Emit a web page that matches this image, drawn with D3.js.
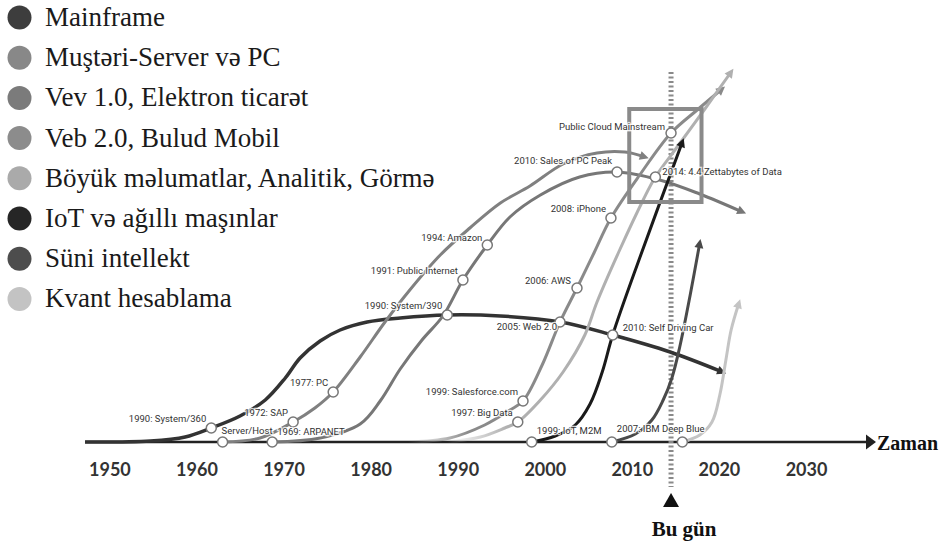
<!DOCTYPE html>
<html>
<head>
<meta charset="utf-8">
<script src="https://cdn.jsdelivr.net/npm/d3@7"></script>
<style>
  body { margin: 0; background: #fff; }
  .legendText { font-family: "Liberation Serif", "Times New Roman", serif; font-size: 27px; fill: #1a1a1a; }
  .tickText { font-family: Lato, "Open Sans", sans-serif; font-weight: 700; font-size: 18px; fill: #333; }
  .note { font-family: Roboto, "DejaVu Sans Condensed", sans-serif; font-size: 9.5px; fill: #333;
          stroke: #fff; stroke-width: 2.5px; stroke-opacity: 0.8; paint-order: stroke; }
  .bold { font-family: "Liberation Serif", "Times New Roman", serif; font-weight: 700; font-size: 21px; fill: #111; }
</style>
</head>
<body>
<div id="chart"></div>
<script>
// computing eras: [year, adoption level 0-100]
var mainframe = [[1947.2,0],[1954.7,0.25],[1958.7,1.25],[1961.7,3.5],[1965.0,6.5],[1967.9,10.5],[1970.2,16],[1971.9,21],
  [1974.2,25.25],[1976.5,28],[1979.6,30],[1983.4,31],[1988.8,31.75],[1994.9,31.5],[2001.8,30],[2007.8,26.75],[2014.4,22.5],[2020.4,17.5]];
var clientServer = [[1963.0,0],[1967.3,1],[1971.1,5],[1973.6,8.5],[1975.7,12.5],[1978.8,21.25],[1981.65,30],[1984.5,38],
  [1988.0,46.75],[1991.4,53.5],[1994.9,59.75],[1998.3,64],[2002.1,69.5],[2006.0,72.25],[2009.2,72.5],[2011.5,71.25]];
var webOne = [[1968.7,0],[1974.2,1],[1978.8,4.5],[1981.1,10.25],[1983.4,18.25],[1985.9,25.5],[1988.3,31.5],[1990.6,40.5],
  [1993.4,49.25],[1996.0,56.25],[1999.5,61.75],[2004.0,66.25],[2008.3,67.5],[2013.2,65.5],[2017.8,62],[2022.7,57.5]];
var webTwo = [[1984.3,0],[1989.1,1],[1993.1,4.25],[1996.0,8],[1997.5,10.25],[1999.7,19.25],[2001.75,30],[2003.7,38.5],
  [2005.65,47.25],[2007.6,56],[2010.9,66.75],[2014.5,77.25],[2017.5,83],[2020.35,88.25]];
var bigData = [[1988.8,0],[1992.6,1.25],[1995.4,3.5],[1996.9,5],[1999.5,10.5],[2002.1,17.5],[2004.6,26.75],[2006.0,35],
  [2008.6,48],[2011.3,60.5],[2012.7,66.25],[2015.2,73.75],[2018.3,83],[2021.4,92.5]];
var iot = [[1998.5,0],[2001.2,1.5],[2003.5,4.25],[2005.2,9.5],[2006.6,17.5],[2007.8,26.75],[2010.9,46],[2015.8,75]];
var ai = [[2007.7,0],[2010.4,2],[2012.3,5.5],[2013.6,10.5],[2014.6,16],[2015.5,23.75],[2016.7,36.75],[2017.8,49.75]];
var quantum = [[2015.8,0],[2017.8,1.75],[2019.2,5],[2020.1,11.75],[2020.8,20.5],[2021.4,28],[2022.3,34.75]];

var eraNames = ["Mainframe", "Muştəri-Server və PC", "Vev 1.0, Elektron ticarət", "Veb 2.0, Bulud Mobil",
  "Böyük məlumatlar, Analitik, Görmə", "IoT və ağıllı maşınlar", "Süni intellekt", "Kvant hesablama"];
var eraSeries = [mainframe, clientServer, webOne, webTwo, bigData, iot, ai, quantum];

// milestones: [label, year, level]
var milestones = [
  ["1990: System/360", 1961.7, 3.5], ["Server/Host", 1963.0, 0], ["1969: ARPANET", 1968.7, 0],
  ["1972: SAP", 1971.1, 5], ["1977: PC", 1975.7, 12.5], ["1990: System/390", 1988.8, 31.75],
  ["1991: Public Internet", 1990.6, 40.5], ["1994: Amazon", 1993.4, 49.25], ["1999: Salesforce.com", 1997.5, 10.25],
  ["1997: Big Data", 1996.9, 5], ["1999: IoT, M2M", 1998.5, 0], ["2005: Web 2.0", 2001.75, 30],
  ["2006: AWS", 2003.7, 38.5], ["2008: iPhone", 2007.6, 56], ["2010: Self Driving Car", 2007.8, 26.75],
  ["2010: Sales of PC Peak", 2008.3, 67.5], ["2007: IBM Deep Blue", 2007.7, 0],
  ["Public Cloud Mainstream", 2014.5, 77.25], ["2014: 4.4 Zettabytes of Data", 2012.7, 66.25], ["", 2015.8, 0]
];

var tickYears = [1950, 1960, 1970, 1980, 1990, 2000, 2010, 2020, 2030];
var today = 2014.5;
var focusBox = [2009.7, 2018.0, 60, 83.25];

var svgWidth = 941;
var svgHeight = 545;

var lineColors = ["#333", "#808080", "#777", "#8a8a8a", "#b0b0b0", "#1a1a1a", "#4a4a4a", "#c4c4c4"];
var dotColors = ["#3d3d3d", "#888", "#7b7b7b", "#8c8c8c", "#aaa", "#262626", "#4d4d4d", "#c3c3c3"];

var svg = d3.select("#chart")
  .append("svg")
  .attr("width", svgWidth)
  .attr("height", svgHeight);

var x = d3.scaleLinear().domain([1950, 2030]).range([109.4, 806]);
var y = d3.scaleLinear().domain([0, 100]).range([442, 42]);

var defs = svg.append("defs");

// arrow markers, one per colour
lineColors.forEach(function(c, i) {
  defs.append("marker")
    .attr("id", "arrow" + i)
    .attr("markerUnits", "userSpaceOnUse")
    .attr("viewBox", "-1 -6 12 12")
    .attr("markerWidth", 12)
    .attr("markerHeight", 12)
    .attr("refX", 5)
    .attr("refY", 0)
    .attr("orient", "auto")
    .append("path")
    .attr("d", "M0,-4.5L9,0L0,4.5Z")
    .attr("fill", c);
});

// fade-in for curves that begin off the axis
[3, 4].forEach(function(i) {
  var x0 = x(eraSeries[i][0][0]);
  var g = defs.append("linearGradient")
    .attr("id", "fade" + i)
    .attr("gradientUnits", "userSpaceOnUse")
    .attr("x1", x0).attr("x2", x0 + 60).attr("y1", 0).attr("y2", 0);
  g.append("stop").attr("offset", 0).attr("stop-color", lineColors[i]).attr("stop-opacity", 0);
  g.append("stop").attr("offset", 1).attr("stop-color", lineColors[i]).attr("stop-opacity", 1);
});

// time axis
svg.append("line")
  .attr("x1", 85).attr("x2", 868)
  .attr("y1", y(0)).attr("y2", y(0))
  .attr("stroke", "#222").attr("stroke-width", 2.5);
svg.append("path")
  .attr("d", `M866,${y(0) - 7.5}L876,${y(0)}L866,${y(0) + 7.5}Z`)
  .attr("fill", "#222");
svg.append("text")
  .attr("class", "bold")
  .attr("x", 877).attr("y", y(0) + 8)
  .style("font-size", "20px")
  .text("Zaman");

var bottomAxis = d3.axisBottom(x).tickValues(tickYears).tickFormat(d3.format("d")).tickSize(0).tickPadding(21);
var axisG = svg.append("g")
  .attr("transform", `translate(0, ${y(0)})`)
  .call(bottomAxis);
axisG.select(".domain").remove();
axisG.selectAll("text").attr("class", "tickText").attr("fill", null);
axisG.attr("font-size", null).attr("font-family", null);

// today marker
svg.append("line")
  .attr("x1", x(today)).attr("x2", x(today))
  .attr("y1", 72).attr("y2", 487)
  .attr("stroke", "#8a8a8a").attr("stroke-width", 5)
  .attr("stroke-dasharray", "2,2.5");
svg.append("path")
  .attr("d", `M${x(today)},493L${x(today) + 8},507L${x(today) - 8},507Z`)
  .attr("fill", "#111");
svg.append("text")
  .attr("class", "bold")
  .attr("x", x(today) + 13).attr("y", 536)
  .attr("text-anchor", "middle")
  .text("Bu gün");

// curves
var line = d3.line()
  .x(d => x(d[0]))
  .y(d => y(d[1]))
  .curve(d3.curveCatmullRom.alpha(0.5));

eraSeries.forEach(function(s, i) {
  svg.append("path")
    .datum(s)
    .attr("d", line)
    .attr("fill", "none")
    .attr("stroke", (i == 3 || i == 4) ? `url(#fade${i})` : lineColors[i])
    .attr("stroke-width", i == 0 ? 3.5 : 3)
    .attr("marker-end", `url(#arrow${i})`);
});

// highlight box
svg.append("rect")
  .attr("x", x(focusBox[0])).attr("y", y(focusBox[3]))
  .attr("width", x(focusBox[1]) - x(focusBox[0]))
  .attr("height", y(focusBox[2]) - y(focusBox[3]))
  .attr("fill", "none").attr("stroke", "#8a8a8a").attr("stroke-width", 4);

// milestone dots and labels
svg.selectAll("circle.milestone")
  .data(milestones)
  .enter()
  .append("circle")
  .attr("class", "milestone")
  .attr("cx", d => x(d[1]))
  .attr("cy", d => y(d[2]))
  .attr("r", 5)
  .attr("fill", "#fff")
  .attr("stroke", "#777")
  .attr("stroke-width", 1.5);

var place = {
  "Server/Host": [-1, -8, "start"],
  "1969: ARPANET": [5, -7, "start"],
  "2010: Self Driving Car": [10, -4, "start"],
  "1999: IoT, M2M": [5, -8, "start"],
  "2007: IBM Deep Blue": [5, -10, "start"],
  "2014: 4.4 Zettabytes of Data": [7, -2, "start"],
  "2005: Web 2.0": [-3, 8, "end"],
  "1994: Amazon": [-5, -4, "end"],
  "2006: AWS": [-6, -4, "end"],
  "2010: Sales of PC Peak": [-5, -8, "end"],
  "Public Cloud Mainstream": [-6, -3, "end"]
};

svg.selectAll("text.note")
  .data(milestones.filter(d => d[0] != ""))
  .enter()
  .append("text")
  .attr("class", "note")
  .attr("x", d => x(d[1]) + (place[d[0]] || [-5])[0])
  .attr("y", d => y(d[2]) + (place[d[0]] || [0, -6])[1])
  .attr("text-anchor", d => (place[d[0]] || [0, 0, "end"])[2])
  .text(d => d[0]);

// legend
var legend = svg.append("g");
eraNames.forEach(function(name, i) {
  legend.append("circle")
    .attr("cx", 19.5).attr("cy", 17.5 + i * 40.2)
    .attr("r", 12)
    .attr("fill", dotColors[i]);
  legend.append("text")
    .attr("class", "legendText")
    .attr("x", 45).attr("y", 26 + i * 40.2)
    .text(name);
});
</script>
</body>
</html>
